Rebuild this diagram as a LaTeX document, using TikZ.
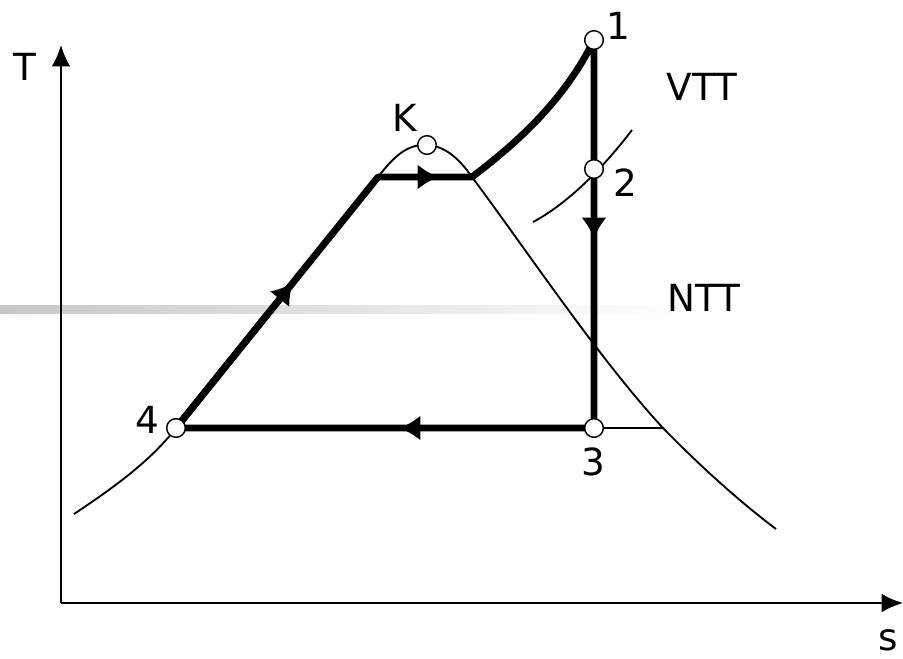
\documentclass[tikz,border=0pt]{standalone}
\usepackage{fontspec}
\setmainfont{DejaVu Sans}
\usetikzlibrary{arrows.meta,calc}
\begin{document}
\begin{tikzpicture}[x=0.75pt,y=-0.75pt,
  lbl/.style={font=\fontsize{28}{30}\selectfont, inner sep=0pt},
  thinline/.style={line width=1.4pt},
  cyc/.style={line width=5.2pt, line join=round},
  cyctip/.style={cyc, -{Latex[length=16pt,width=19pt]}},
  ptc/.style={circle, draw, fill=white, line width=1.1pt, minimum size=14pt, inner sep=0pt},
  ax/.style={line width=1.6pt, -{Latex[length=16pt,width=14pt]}}
]
\useasboundingbox (0,0) rectangle (903,658);
% grey band
\shade[left color=black!22, right color=white] (0,305) rectangle (690,313);
% coordinates
\coordinate (p1) at (594,40);
\coordinate (p2) at (594,169);
\coordinate (p3) at (594,428);
\coordinate (p4) at (176,428);
\coordinate (pk) at (427,145);
\coordinate (a) at (378,177);
\coordinate (b) at (472,177);
\coordinate (o) at (61,603);
\coordinate (ty) at (61,45);
\coordinate (sx) at (903,603);
\coordinate (d0) at (74,514);
\coordinate (d1) at (663,428);
\coordinate (d2) at (776,529);
\coordinate (c0) at (533,222);
\coordinate (c1) at (632,130);
% axes
\draw[ax] (o) -- (ty);
\draw[ax] (o) -- (sx);
% saturation dome
\draw[thinline] (d0) .. controls (110,490) and (150,462) .. (p4) -- (a)
  .. controls (395,155) and (408,144) .. (pk)
  .. controls (446,146) and (460,160) .. (b)
  .. controls (530,255) and (600,360) .. (d1)
  .. controls (700,466) and (740,502) .. (d2);
% line through 2
\draw[thinline] (c0) .. controls (565,205) and (600,172) .. (c1);
% line from 3 to dome
\draw[thinline] (p3) -- (d1);
% cycle
\draw[cyc] (p4) -- (a) -- (b) .. controls (510,148) and (562,105) .. (p1) -- (p3) -- (p4);
% arrows on cycle
\draw[cyctip] (p4) -- ($(p4)!0.58!(a)$);
\draw[cyctip] (a) -- (439,177);
\draw[cyctip] (p1) -- (594,239);
\draw[cyctip] (p3) -- (399,428);
% points
\node[ptc] (n1) at (p1) {};
\node[ptc] (n2) at (p2) {};
\node[ptc] (n3) at (p3) {};
\node[ptc] (n4) at (p4) {};
\node[ptc] (nk) at (pk) {};
% labels
\node[lbl] (lT) at (25,67) {T};
\node[lbl] (ls) at (888,640) {s};
\node[lbl] (l1) at (618,26) {1};
\node[lbl] (l2) at (625,183) {2};
\node[lbl] (l3) at (593,462) {3};
\node[lbl] (l4) at (147,420) {4};
\node[lbl] (lK) at (405,118) {K};
\node[lbl] (lV) at (702,87) {VTT};
\node[lbl] (lN) at (704,298) {NTT};
\end{tikzpicture}
\end{document}
